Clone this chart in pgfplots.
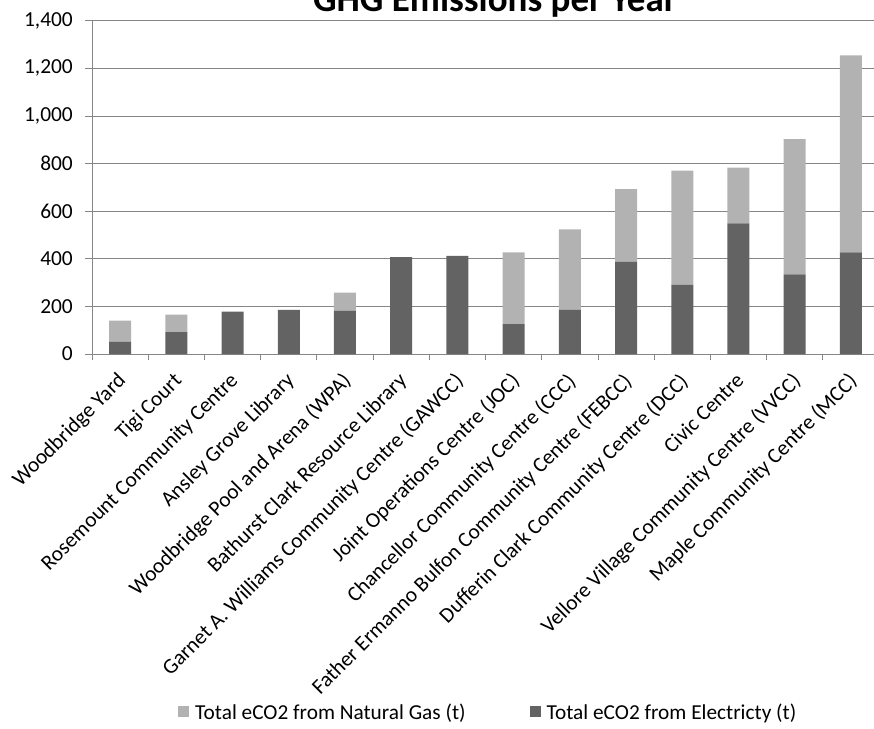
\documentclass[border=0pt]{standalone}
\usepackage{fontspec}
\setmainfont{Carlito}
\usepackage{pgfplots}
\pgfplotsset{compat=1.18}

\definecolor{elec}{RGB}{99,99,99}
\definecolor{gas}{RGB}{178,178,178}
\definecolor{gridc}{RGB}{134,134,134}

\begin{document}
\begin{tikzpicture}
\begin{axis}[
    at={(92pt,-354pt)}, anchor=south west,
    scale only axis, width=787pt, height=333.3pt,
    ybar stacked, bar width=22pt,
    xmin=-0.5, xmax=13.5, ymin=0, ymax=1400,
    axis x line*=bottom, axis y line*=left,
    axis line style={gridc, -},
    ymajorgrids, grid style={gridc, line width=0.8pt},
    ytick={0,200,...,1400},
    xtick={0,...,13},
    minor xtick={-0.5,0.5,...,13.5},
    tick align=outside,
    major tick length=7pt, minor tick length=6pt,
    major x tick style={draw=none},
    every tick/.style={gridc, line width=0.8pt},
    /pgf/number format/assume math mode=true,
    /pgf/number format/1000 sep={,},
    ticklabel style={font=\fontsize{21.4}{24}\selectfont},
    yticklabel style={anchor=east, inner sep=0pt, xshift=-12pt},
    xticklabel style={xshift=-4pt, yshift=-10pt, anchor=north east, inner sep=0pt, rotate=45},
    xticklabels={
      {Woodbridge Yard},
      {Tigi Court},
      {Rosemount Community Centre},
      {Ansley Grove Library},
      {Woodbridge Pool and Arena (WPA)},
      {Bathurst Clark Resource Library},
      {Garnet A. Williams Community Centre (GAWCC)},
      {Joint Operations Centre (JOC)},
      {Chancellor Community Centre (CCC)},
      {Father Ermanno Bulfon Community Centre (FEBCC)},
      {Dufferin Clark Community Centre (DCC)},
      {Civic Centre},
      {Vellore Village Community Centre (VVCC)},
      {Maple Community Centre (MCC)}
    },
    legend columns=2,
    reverse legend,
    legend style={
      at={(rel axis cs:0.1093,-1.074)}, anchor=west,
      draw=none, fill=none, inner sep=0pt,
      font=\fontsize{21.3}{24}\selectfont,
      nodes={inner sep=2pt},
      /tikz/every odd column/.append style={column sep=4pt},
      /tikz/every even column/.append style={column sep=62pt},
    },
    legend image code/.code={\fill[#1] (0pt,-5.5pt) rectangle (11pt,5.5pt);},
]
\addplot[fill=elec, draw=none] coordinates {
  (0,52) (1,92) (2,178) (3,185) (4,182) (5,407) (6,412)
  (7,126) (8,185) (9,388) (10,290) (11,549) (12,335) (13,427)
};
\addlegendentry{Total eCO2 from Electricty (t)}
\addplot[fill=gas, draw=none] coordinates {
  (0,88) (1,73) (2,0) (3,0) (4,76) (5,0) (6,0)
  (7,301) (8,339) (9,305) (10,480) (11,234) (12,568) (13,827)
};
\addlegendentry{Total eCO2 from Natural Gas (t)}
\end{axis}
\node[anchor=base, font=\fontsize{37}{40}\selectfont\bfseries] at (495pt,-11pt) {GHG Emissions per Year};
\pgfresetboundingbox
\path[use as bounding box] (0,0) rectangle (874pt,-728pt);
\end{tikzpicture}
\end{document}
